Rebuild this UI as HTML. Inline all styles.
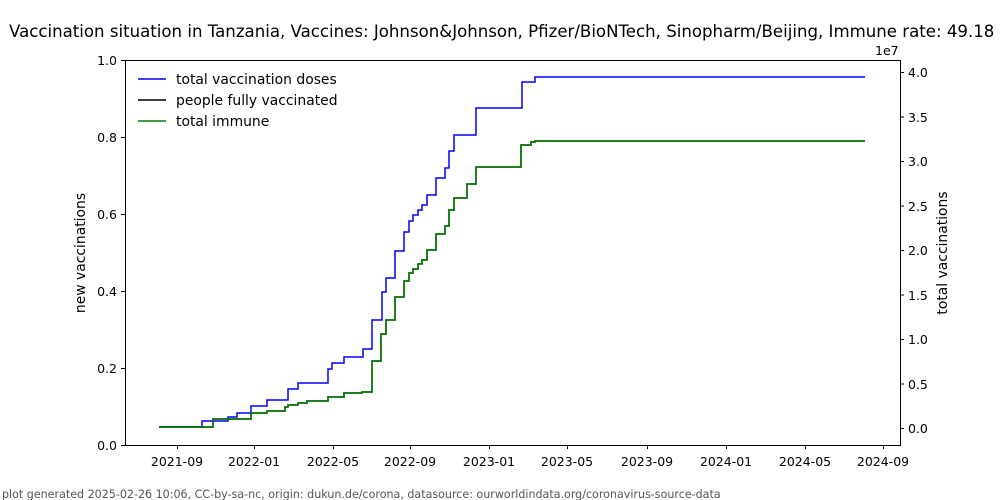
<!DOCTYPE html>
<html><head><meta charset="utf-8"><style>
body{margin:0;background:#fff;}
svg{display:block;font-family:"DejaVu Sans","Liberation Sans",sans-serif;}
</style></head><body>
<svg width="1000" height="500" viewBox="0 0 1000 500" xmlns="http://www.w3.org/2000/svg">
<rect width="1000" height="500" fill="#fff"/>
<text x="9" y="37" font-size="16.6" fill="#000">Vaccination situation in Tanzania, Vaccines: Johnson&amp;Johnson, Pfizer/BioNTech, Sinopharm/Beijing, Immune rate: 49.18 %</text>
<g fill="none" stroke-width="1.5" stroke-linejoin="miter">
<polyline stroke="#0000ff" points="159,427 202,427 202,421 228,421 228,417 237,417 237,413 251,413 251,406 267,406 267,400 288,400 288,389 298,389 298,383 328,383 328,369 332,369 332,363 344,363 344,357 363,357 363,349 372,349 372,320 382,320 382,292 386,292 386,278 395,278 395,251 404,251 404,232 409,232 409,221 413,221 413,215 418,215 418,210 422,210 422,205 427,205 427,195 436,195 436,178 445,178 445,168 449,168 449,151 454,151 454,135 476,135 476,108 522,108 522,82 535,82 535,77 865,77"/>
<polyline stroke="#000" points="159,427 213,427 213,419 251,419 251,413 267,413 267,411 285,411 285,407 288,407 288,405 298,405 298,403 307,403 307,401 328,401 328,397 344,397 344,393 362,393 362,392 372,392 372,361 381,361 381,334 386,334 386,320 395,320 395,297 404,297 404,281 409,281 409,273 413,273 413,269 418,269 418,264 422,264 422,260 427,260 427,250 436,250 436,234 445,234 445,226 449,226 449,210 454,210 454,198 467,198 467,184 476,184 476,167 521,167 521,145 531,145 531,142 535,142 535,141 865,141"/>
<polyline stroke="#008000" points="159,427 213,427 213,419 251,419 251,413 267,413 267,411 285,411 285,407 288,407 288,405 298,405 298,403 307,403 307,401 328,401 328,397 344,397 344,393 362,393 362,392 372,392 372,361 381,361 381,334 386,334 386,320 395,320 395,297 404,297 404,281 409,281 409,273 413,273 413,269 418,269 418,264 422,264 422,260 427,260 427,250 436,250 436,234 445,234 445,226 449,226 449,210 454,210 454,198 467,198 467,184 476,184 476,167 521,167 521,145 531,145 531,142 535,142 535,141 865,141"/>
</g>
<rect x="125.5" y="60.5" width="775" height="385" fill="none" stroke="#000" stroke-width="1"/>
<g stroke="#000" stroke-width="1">
<line x1="125" y1="445.5" x2="121" y2="445.5"/><line x1="125" y1="368.5" x2="121" y2="368.5"/><line x1="125" y1="291.5" x2="121" y2="291.5"/><line x1="125" y1="214.5" x2="121" y2="214.5"/><line x1="125" y1="137.5" x2="121" y2="137.5"/><line x1="125" y1="60.5" x2="121" y2="60.5"/>
<line x1="900" y1="428.5" x2="904" y2="428.5"/><line x1="900" y1="384" x2="904" y2="384"/><line x1="900" y1="339.5" x2="904" y2="339.5"/><line x1="900" y1="295" x2="904" y2="295"/><line x1="900" y1="250.5" x2="904" y2="250.5"/><line x1="900" y1="206" x2="904" y2="206"/><line x1="900" y1="161.5" x2="904" y2="161.5"/><line x1="900" y1="117" x2="904" y2="117"/><line x1="900" y1="72.5" x2="904" y2="72.5"/>
<line x1="177.5" y1="445" x2="177.5" y2="449"/><line x1="254.5" y1="445" x2="254.5" y2="449"/><line x1="333.5" y1="445" x2="333.5" y2="449"/><line x1="410.5" y1="445" x2="410.5" y2="449"/><line x1="489.5" y1="445" x2="489.5" y2="449"/><line x1="567.5" y1="445" x2="567.5" y2="449"/><line x1="647.5" y1="445" x2="647.5" y2="449"/><line x1="726.5" y1="445" x2="726.5" y2="449"/><line x1="805.5" y1="445" x2="805.5" y2="449"/><line x1="883.5" y1="445" x2="883.5" y2="449"/>
</g>
<g font-size="12.5" fill="#000" text-anchor="end">
<text x="117" y="450">0.0</text><text x="117" y="373">0.2</text><text x="117" y="296">0.4</text><text x="117" y="219">0.6</text><text x="117" y="142">0.8</text><text x="117" y="65">1.0</text>
</g>
<g font-size="12.5" fill="#000">
<text x="908" y="433">0.0</text><text x="908" y="389">0.5</text><text x="908" y="344">1.0</text><text x="908" y="300">1.5</text><text x="908" y="255">2.0</text><text x="908" y="211">2.5</text><text x="908" y="166">3.0</text><text x="908" y="122">3.5</text><text x="908" y="77">4.0</text>
<text x="875" y="55">1e7</text>
</g>
<g font-size="12.5" fill="#000" text-anchor="middle">
<text x="177" y="466">2021-09</text><text x="254" y="466">2022-01</text><text x="333" y="466">2022-05</text><text x="410" y="466">2022-09</text><text x="489" y="466">2023-01</text><text x="567" y="466">2023-05</text><text x="647" y="466">2023-09</text><text x="726" y="466">2024-01</text><text x="805" y="466">2024-05</text><text x="883" y="466">2024-09</text>
</g>
<text transform="translate(85,253) rotate(-90)" font-size="13.9" text-anchor="middle">new vaccinations</text>
<text transform="translate(947,253) rotate(-90)" font-size="13.9" text-anchor="middle">total vaccinations</text>
<g font-size="13.9">
<line x1="138" y1="79" x2="166" y2="79" stroke="#0000ff" stroke-width="1.5"/><text x="176" y="84">total vaccination doses</text>
<line x1="138" y1="100" x2="166" y2="100" stroke="#000" stroke-width="1.5"/><text x="176" y="105">people fully vaccinated</text>
<line x1="138" y1="121" x2="166" y2="121" stroke="#008000" stroke-width="1.5"/><text x="176" y="126">total immune</text>
</g>
<text x="2" y="498" font-size="11.1" fill="#555">plot generated 2025-02-26 10:06, CC-by-sa-nc, origin: dukun.de/corona, datasource: ourworldindata.org/coronavirus-source-data</text>
</svg>
</body></html>
